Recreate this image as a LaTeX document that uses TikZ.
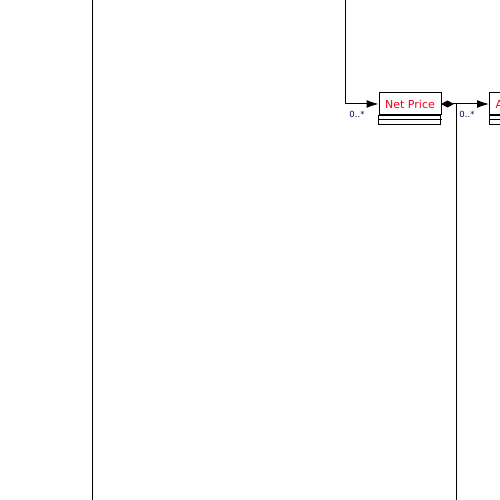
\documentclass[tikz,border=0pt]{standalone}
\usepackage{fontspec}
\setmainfont{DejaVu Sans}
\usetikzlibrary{arrows.meta}
\definecolor{lblcol}{RGB}{10,10,90}
\definecolor{namecol}{RGB}{240,0,30}
\begin{document}
\begin{tikzpicture}[x=1pt,y=1pt,
  line/.style={line width=1pt, black},
  assoc/.style={line, -{Latex[length=12pt,width=8pt]}},
  compo/.style={line, {Diamond[length=13pt,width=7pt,round]}-{Latex[length=12pt,width=8pt]}},
  classname/.style={draw, line width=1pt, minimum width=62pt, minimum height=22pt, inner sep=0pt, text=namecol, font=\fontsize{11}{13}\selectfont},
  mult/.style={text=lblcol, font=\fontsize{8.5}{10}\selectfont, inner sep=0pt}
]
\useasboundingbox (0,0) rectangle (500,500);
\clip (0,0) rectangle (500,500);
% left vertical line
\coordinate (l1) at (92,500);
\coordinate (l2) at (92,0);
\draw[line] (l1) -- (l2);
% Net Price class
\node[classname] (np) at (410,396) {Net Price};
\draw[line] (np.south west) rectangle ++(62,-9);
\draw[line] ([yshift=-4]np.south west) -- ([yshift=-4]np.south east);
% right class (cut off)
\node[classname, anchor=west, minimum width=0pt, text width=68pt, align=left, inner xsep=6pt] (ab) at (489,396) {A};
\draw[line] (ab.south west) rectangle ++(80,-9);
\draw[line] ([yshift=-4]ab.south west) -- ([yshift=-4]ab.south east);
% connectors
\coordinate (t1) at (345,500);
\draw[assoc] (t1) |- (np.west);
\draw[compo] (np.east) -- (ab.west);
\coordinate (j) at (456,396);
\coordinate (b2) at (456,0);
\draw[line] (j) -- (b2);
% multiplicities
\node[mult] (m1) at (357,386) {0..*};
\node[mult] (m2) at (467,386) {0..*};
\end{tikzpicture}
\end{document}
